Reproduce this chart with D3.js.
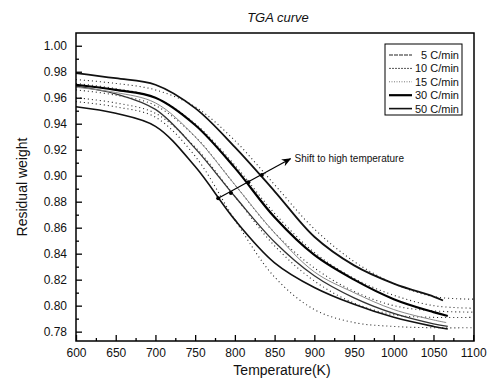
<!DOCTYPE html>
<html>
<head>
<meta charset="utf-8">
<script src="https://cdnjs.cloudflare.com/ajax/libs/d3/7.8.5/d3.min.js"></script>
<style>
  body { margin: 0; background: #fff; }
  text { font-family: "Liberation Sans", Arial, sans-serif; fill: #111; }
</style>
</head>
<body>
<svg id="chart"></svg>
<script>
let width = 495, height = 385

// temperatures (K) at which curves were read
let temps = [600, 650, 700, 750, 800, 850, 900, 950, 1000, 1050]

// measured residual weight (solid curves)
let w50 = [0.979, 0.975, 0.970, 0.952, 0.922, 0.888, 0.853, 0.831, 0.817, 0.807]
let w30 = [0.970, 0.966, 0.960, 0.939, 0.906, 0.868, 0.839, 0.820, 0.805, 0.795]
let w15 = [0.968, 0.964, 0.956, 0.930, 0.893, 0.856, 0.826, 0.810, 0.797, 0.789]
let w10 = [0.969, 0.963, 0.951, 0.921, 0.884, 0.849, 0.823, 0.806, 0.794, 0.786]
let w5  = [0.953, 0.948, 0.938, 0.907, 0.866, 0.833, 0.814, 0.801, 0.791, 0.784]
let endT = [1068, 1068, 1066, 1068, 1062]
let endW = [0.782, 0.784, 0.787, 0.792, 0.804]

// model curves (dotted), read up to 1100 K
let modelTemps = [600, 650, 700, 750, 800, 850, 900, 950, 1000, 1050, 1100]
let m50 = [0.974, 0.971, 0.966, 0.953, 0.927, 0.893, 0.859, 0.834, 0.817, 0.807, 0.805]
let m30 = [0.971, 0.967, 0.960, 0.940, 0.908, 0.871, 0.841, 0.821, 0.808, 0.800, 0.798]
let m15 = [0.966, 0.962, 0.954, 0.930, 0.893, 0.856, 0.829, 0.811, 0.800, 0.796, 0.795]
let m10 = [0.960, 0.956, 0.948, 0.922, 0.884, 0.846, 0.819, 0.802, 0.793, 0.791, 0.791]
let m5  = [0.957, 0.953, 0.945, 0.915, 0.866, 0.822, 0.797, 0.787, 0.784, 0.783, 0.783]

let seriesNames = ["5 C/min", "10 C/min", "15 C/min", "30 C/min", "50 C/min"]

let xTicks = [600, 650, 700, 750, 800, 850, 900, 950, 1000, 1050, 1100]
let yTicks = [0.78, 0.80, 0.82, 0.84, 0.86, 0.88, 0.90, 0.92, 0.94, 0.96, 0.98, 1.00]

// arrow "shift to high temperature" and the points it crosses
let arrowFrom = [779, 0.8827]
let arrowTo = [870, 0.913]
let crossT = [779, 795, 817, 834]
let crossW = [0.8827, 0.8867, 0.895, 0.9005]

let svg = d3.select("#chart").attr("width", width).attr("height", height)

let padLeft = 76, padRight = 474, padTop = 33, padBottom = 341
let x = d3.scaleLinear().domain([600, 1101]).range([padLeft, padRight])
let y = d3.scaleLinear().domain([0.7728, 1.0098]).range([padBottom, padTop])

let measured = [w5, w10, w15, w30, w50]
let models = [m5, m10, m15, m30, m50]
let styles = [
    {stroke: "#111", width: 1.6},
    {stroke: "#333", width: 1.3},
    {stroke: "#888", width: 1.0},
    {stroke: "#000", width: 2.2},
    {stroke: "#111", width: 1.8},
]
let legendStyles = [
    {stroke: "#222", width: 1.2, dash: "4,1"},
    {stroke: "#555", width: 1.0, dash: "2,1"},
    {stroke: "#777", width: 1.0, dash: "1,1.5"},
    {stroke: "#000", width: 2.2, dash: null},
    {stroke: "#111", width: 1.6, dash: null},
]

let line = d3.line().x(d => x(d[0])).y(d => y(d[1])).curve(d3.curveCatmullRom.alpha(0.5))

let plot = svg.append("g")

// dotted model curves
models.forEach((m, i) => {
    let pts = modelTemps.map((t, j) => [t, m[j]])
    plot.append("path")
        .attr("d", line(pts))
        .attr("fill", "none")
        .attr("stroke", "#222")
        .attr("stroke-width", 1.1)
        .attr("stroke-dasharray", "1,3")
})

// measured curves
measured.forEach((m, i) => {
    let pts = temps.map((t, j) => [t, m[j]])
    pts.push([endT[i], endW[i]])
    plot.append("path")
        .attr("d", line(pts))
        .attr("fill", "none")
        .attr("stroke", styles[i].stroke)
        .attr("stroke-width", styles[i].width)
})

// frame
svg.append("rect")
    .attr("x", padLeft).attr("y", padTop)
    .attr("width", padRight - padLeft).attr("height", padBottom - padTop)
    .attr("fill", "none").attr("stroke", "#000").attr("stroke-width", 1.5)

// axes with inward ticks
svg.append("g").attr("transform", `translate(0,${padBottom})`)
    .call(d3.axisBottom(x).tickValues(xTicks).tickSizeInner(-6).tickSizeOuter(0).tickPadding(7).tickFormat(d3.format("d")))
svg.append("g").attr("transform", `translate(0,${padBottom})`)
    .call(d3.axisBottom(x).tickValues(xTicks.slice(0, -1).map(t => t + 25)).tickSize(-3).tickFormat(""))
svg.append("g").attr("transform", `translate(${padLeft},0)`)
    .call(d3.axisLeft(y).tickValues(yTicks).tickSizeInner(-6).tickSizeOuter(0).tickPadding(9).tickFormat(d3.format(".2f")))
svg.append("g").attr("transform", `translate(${padLeft},0)`)
    .call(d3.axisLeft(y).tickValues(yTicks.slice(0, -1).map(v => v + 0.01)).tickSize(-3).tickFormat(""))

svg.selectAll(".domain").remove()
svg.selectAll(".tick line").attr("stroke", "#000").attr("stroke-width", 1.3)
svg.selectAll(".tick text").attr("font-size", "12px").attr("fill", "#111")
    .attr("font-family", "Liberation Sans, Arial, sans-serif")

// titles
svg.append("text").attr("x", 278).attr("y", 22)
    .attr("text-anchor", "middle").attr("font-size", "13px").attr("font-style", "italic")
    .text("TGA curve")
svg.append("text").attr("x", 282).attr("y", 375)
    .attr("text-anchor", "middle").attr("font-size", "14px")
    .text("Temperature(K)")
svg.append("text").attr("transform", "translate(27,187) rotate(-90)")
    .attr("text-anchor", "middle").attr("font-size", "14px")
    .text("Residual weight")

// arrow
svg.append("defs").append("marker")
    .attr("id", "head").attr("viewBox", "0 0 10 10")
    .attr("refX", 9).attr("refY", 5)
    .attr("markerWidth", 8).attr("markerHeight", 8)
    .attr("orient", "auto")
    .append("path").attr("d", "M0,1 L10,5 L0,9 L3,5 Z").attr("fill", "#000")

svg.append("line")
    .attr("x1", x(arrowFrom[0])).attr("y1", y(arrowFrom[1]))
    .attr("x2", x(arrowTo[0])).attr("y2", y(arrowTo[1]))
    .attr("stroke", "#000").attr("stroke-width", 1.2)
    .attr("marker-end", "url(#head)")
svg.selectAll("circle.cross").data(crossT).enter().append("circle")
    .attr("class", "cross")
    .attr("cx", d => x(d)).attr("cy", (d, i) => y(crossW[i])).attr("r", 2)
    .attr("fill", "#000")
svg.append("text").attr("x", x(arrowTo[0]) + 4).attr("y", y(arrowTo[1]) + 3)
    .attr("font-size", "10px").text("Shift to high temperature")

// legend
let lg = svg.append("g")
lg.append("rect").attr("x", 385).attr("y", 44).attr("width", 77).attr("height", 71)
    .attr("fill", "#fff").attr("stroke", "#000").attr("stroke-width", 1)
seriesNames.forEach((name, i) => {
    let ly = 55 + i * 13.4
    lg.append("line").attr("x1", 389).attr("x2", 412).attr("y1", ly).attr("y2", ly)
        .attr("stroke", legendStyles[i].stroke).attr("stroke-width", legendStyles[i].width)
        .attr("stroke-dasharray", legendStyles[i].dash)
    lg.append("text").attr("x", 459).attr("y", ly + 4).attr("text-anchor", "end")
        .attr("font-size", "11px").text(name)
})
</script>
</body>
</html>
